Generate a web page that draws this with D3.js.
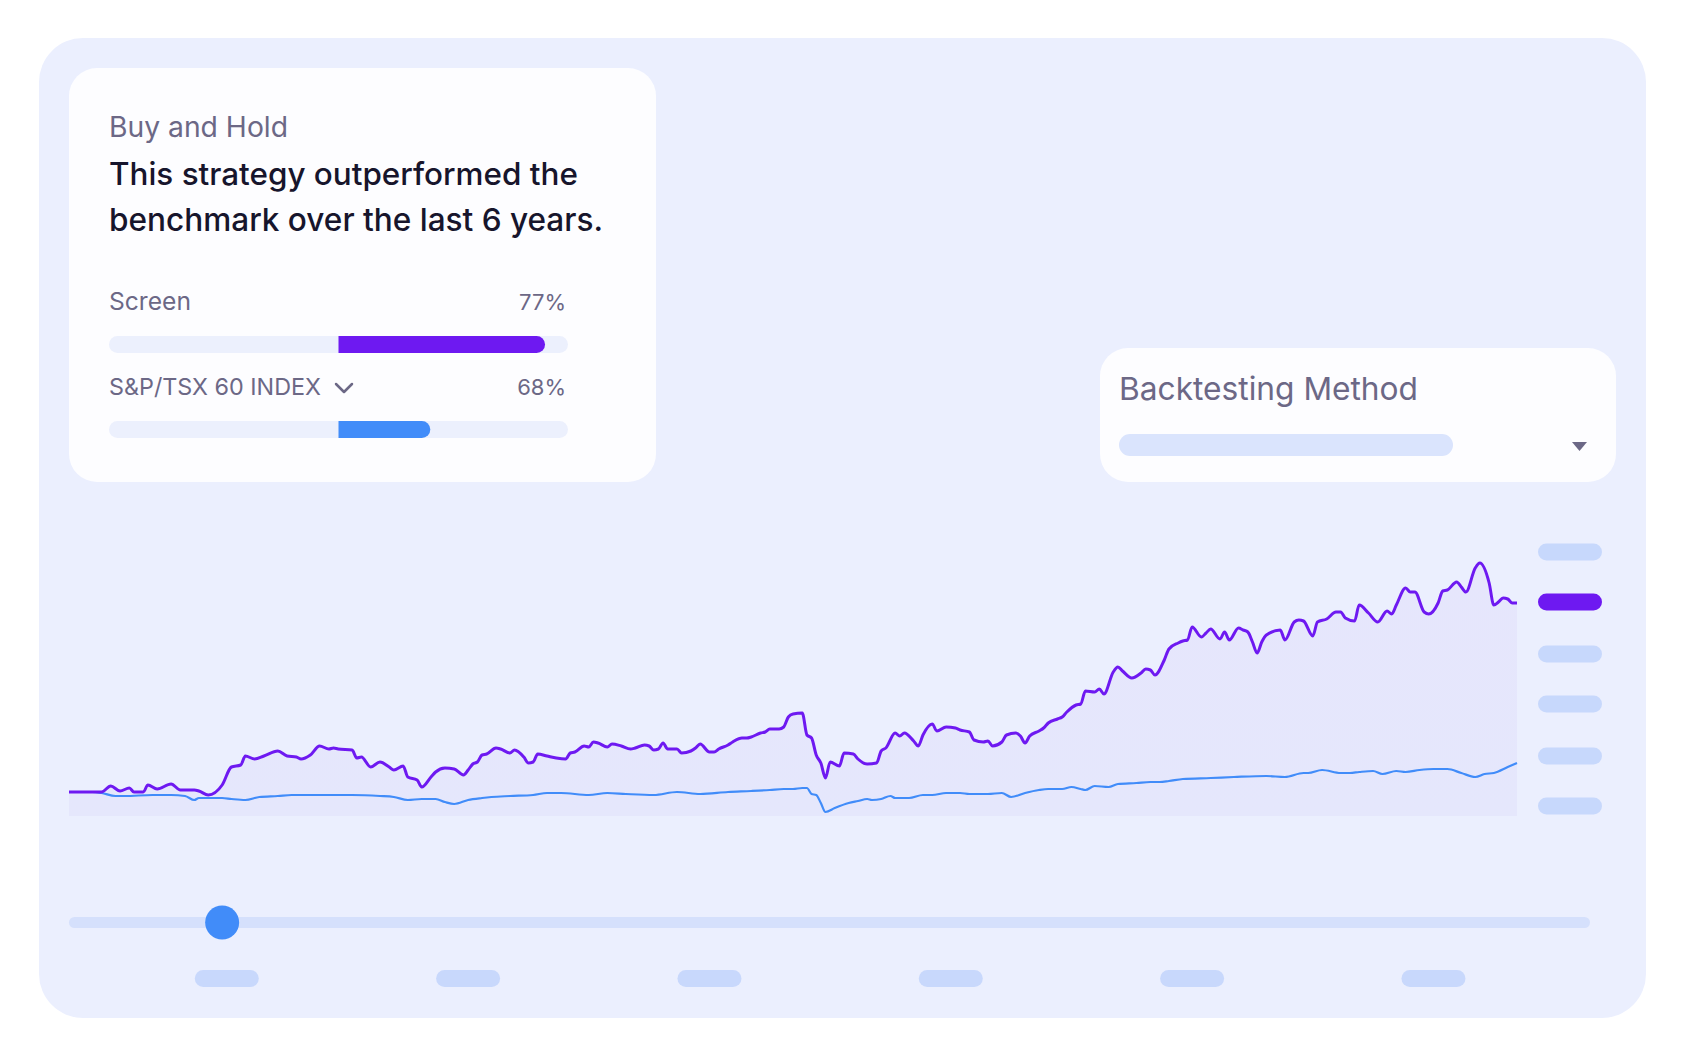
<!DOCTYPE html>
<html>
<head>
<meta charset="utf-8">
<script src="https://cdn.jsdelivr.net/npm/d3@7"></script>
<style>
  html, body { margin: 0; padding: 0; background: #ffffff; }
  svg { display: block; }
  text { font-family: Inter, "Noto Sans", sans-serif; }
</style>
</head>
<body>
<div id="chart"></div>
<script>
// weekly points, value = return in % since start
var screenWeeks = [0,5,7,9,11,13,14,16,17,19,22,24,27,28,30,33,35,37,38,40,42,45,47,49,50,52,54,56,57,58,61,62,63,65,67,69,70,72,73,75,76,78,79,81,83,85,86,87,88,89,90,92,93,95,96,98,99,100,101,103,105,107,108,109,111,112,113,114,116,117,119,121,122,124,125,126,127,128,129,131,132,134,135,136,138,139,140,142,143,145,146,147,149,150,151,153,154,155,156,158,159,160,161,162,163,164,166,167,169,170,172,174,175,176,178,179,180,182,183,184,186,187,189,191,192,194,195,197,198,199,201,202,204,205,206,207,209,210,211,213,214,215,217,218,219,221,222,223,225,226,227,229,231,232,233,234,236,237,239,240,241,242,244,245,246,248,249,250,252,253,254,255,256,257,258,261,262,264,265,266,268,269,271,273,274,275,277,278,280,282,284,285,286,288,289,290,292,293,295,296,297,299,300,301,303,304,306,307,308,309,310,311,312]
var screenValues = [0,0,0,6,1,4,0,0,7,3,8,2,2,1,-3,7,25,27,36,33,36,41,36,35,33,37,46,43,44,43,42,34,35,25,30,25,22,26,15,12,5,15,20,24,23,17,22,28,30,37,38,44,43,39,42,35,29,30,38,36,34,33,39,40,46,45,50,49,45,48,46,43,44,47,46,42,43,49,43,43,39,41,44,48,40,40,43,47,50,54,54,55,59,60,63,63,65,75,78,79,57,54,37,29,14,30,26,39,38,33,28,29,41,44,59,56,59,51,46,57,68,61,65,64,62,60,52,50,51,46,50,57,59,56,49,56,61,64,69,73,75,80,87,88,101,100,103,98,120,125,121,114,119,123,122,117,132,143,149,151,152,165,155,159,163,153,160,152,164,162,160,150,139,150,157,162,152,170,172,171,156,170,173,180,180,174,171,187,179,170,181,178,187,204,200,200,180,178,189,201,202,210,205,200,224,229,209,187,190,194,193,189,189]

var indexWeeks = [0,5,7,10,12,18,22,25,27,28,31,33,35,38,41,45,48,56,61,67,70,73,76,79,81,83,86,89,91,95,100,103,106,112,116,120,126,131,136,142,147,151,154,156,158,159,160,161,162,163,165,168,170,172,173,175,177,178,181,184,186,189,192,194,198,201,203,206,209,211,214,216,218,219,221,224,226,230,233,235,237,240,246,251,258,262,266,267,270,274,276,278,281,283,286,288,291,294,297,300,303,305,307,310,312]
var indexValues = [0,0,-1,-4,-4,-3,-3,-4,-8,-6,-6,-6,-7,-8,-5,-4,-3,-3,-3,-4,-5,-8,-7,-7,-10,-12,-8,-6,-5,-4,-3,-1,-1,-3,-1,-2,-3,0,-2,0,1,2,3,3,4,4,-2,-3,-11,-20,-16,-11,-9,-7,-8,-7,-4,-6,-6,-3,-3,-1,-1,-2,-2,-1,-5,-1,2,3,3,5,3,2,6,5,8,9,10,10,11,13,14,15,16,15,19,19,22,19,19,20,21,18,21,20,22,23,23,19,15,18,19,25,29]

var yearTicks = [34, 86, 138, 190, 242, 294]
var yTicks = [240, 190, 138, 88, 36, -14]

var seriesNames = ["Screen", "S&P/TSX 60 INDEX"]
var seriesPct = ["77%", "68%"]
var barScores = [0.9, 0.4]

var headTitle = "Buy and Hold"
var headLines = ["This strategy outperformed the", "benchmark over the last 6 years."]
var methodTitle = "Backtesting Method"
var sliderWeek = 33

var W = 1686, H = 1056
var purple = "#6e19f1", blue = "#418cf9", grey = "#6c6886"

var svg = d3.select("#chart").append("svg")
  .attr("width", W)
  .attr("height", H)

var defs = svg.append("defs")
var grad = defs.append("linearGradient").attr("id", "fillGrad")
  .attr("x1", 0).attr("y1", 0).attr("x2", 0).attr("y2", 1)
grad.append("stop").attr("offset", "0%").attr("stop-color", "#e6e6fc")
grad.append("stop").attr("offset", "100%").attr("stop-color", "#e5e7fc")

// outer panel
svg.append("rect")
  .attr("x", 39).attr("y", 38).attr("width", 1607).attr("height", 980)
  .attr("rx", 44).attr("fill", "#ebeffe")

// fit a text to a target width
function fit(t, w) {
  var len = t.node().getComputedTextLength()
  var fs = parseFloat(t.attr("font-size"))
  t.attr("font-size", (fs * w / len).toFixed(2))
}

// left card
svg.append("rect")
  .attr("x", 69).attr("y", 68).attr("width", 587).attr("height", 414)
  .attr("rx", 28).attr("fill", "#fdfdff")

fit(svg.append("text").attr("x", 109).attr("y", 137).attr("font-size", 26)
  .attr("fill", grey).text(headTitle), 179)

headLines.forEach(function (s, i) {
  fit(svg.append("text").attr("x", 109).attr("y", 185 + i * 46).attr("font-size", 29)
    .attr("fill", "#17152c").attr("font-weight", 500).text(s), i == 0 ? 469 : 494)
})

var barX = d3.scaleLinear().domain([-1, 1]).range([109, 568])
var labelW = [82, 212]
seriesNames.forEach(function (name, i) {
  var base = 310 + i * 85
  fit(svg.append("text").attr("x", 109).attr("y", base).attr("font-size", 22)
    .attr("fill", grey).text(name), labelW[i])
  svg.append("text").attr("x", 566).attr("y", base).attr("font-size", 22)
    .attr("text-anchor", "end").attr("fill", grey).text(seriesPct[i])
  var by = base + 26
  svg.append("rect").attr("x", barX(-1)).attr("y", by).attr("width", barX(1) - barX(-1))
    .attr("height", 17).attr("rx", 8.5).attr("fill", "#ecf0fd")
  var x0 = barX(0), x1 = barX(barScores[i])
  svg.append("path")
    .attr("d", "M" + x0 + "," + by + "H" + (x1 - 8.5) + "A8.5,8.5 0 0 1 " + (x1 - 8.5) + "," + (by + 17) + "H" + x0 + "Z")
    .attr("fill", i == 0 ? purple : blue)
})
// chevron next to the index name
svg.append("path")
  .attr("d", "M336,384 L344,392 L352,384")
  .attr("fill", "none").attr("stroke", grey).attr("stroke-width", 2.5)
  .attr("stroke-linecap", "round").attr("stroke-linejoin", "round")

// right card
svg.append("rect")
  .attr("x", 1100).attr("y", 348).attr("width", 516).attr("height", 134)
  .attr("rx", 28).attr("fill", "#fdfdff")
fit(svg.append("text").attr("x", 1119).attr("y", 400).attr("font-size", 30)
  .attr("fill", grey).text(methodTitle), 299)
svg.append("rect").attr("x", 1119).attr("y", 434).attr("width", 334).attr("height", 22)
  .attr("rx", 11).attr("fill", "#dae4fd")
svg.append("path").attr("d", "M1572,442 L1587,442 L1579.5,451 Z").attr("fill", grey)

// chart
var x = d3.scaleLinear().domain([0, 312]).range([69, 1517])
var y = d3.scaleLinear().domain([-24, 240]).range([816, 552])

var screen = screenWeeks.map(function (w, i) { return {w: w, v: screenValues[i]} })
var index = indexWeeks.map(function (w, i) { return {w: w, v: indexValues[i]} })

var area = d3.area()
  .x(function (d) { return x(d.w) })
  .y0(y(-24))
  .y1(function (d) { return y(d.v) })
  .curve(d3.curveMonotoneX)
var line = d3.line()
  .x(function (d) { return x(d.w) })
  .y(function (d) { return y(d.v) })
  .curve(d3.curveMonotoneX)

svg.append("path").datum(screen).attr("d", area).attr("fill", "url(#fillGrad)")
svg.append("path").datum(index).attr("d", line)
  .attr("fill", "none").attr("stroke", blue).attr("stroke-width", 2.2)
svg.append("path").datum(screen).attr("d", line)
  .attr("fill", "none").attr("stroke", purple).attr("stroke-width", 3)
  .attr("stroke-linejoin", "round")

// y axis placeholder pills, the one at the last screen value is highlighted
var last = screenValues[screenValues.length - 1]
var near = d3.least(yTicks, function (t) { return Math.abs(t - last) })
svg.append("g").selectAll("rect").data(yTicks).enter().append("rect")
  .attr("x", 1538).attr("y", function (d) { return y(d) - 8.5 })
  .attr("width", 64).attr("height", 17).attr("rx", 8.5)
  .attr("fill", function (d) { return d == near ? purple : "#c7d8fc" })

// slider
svg.append("rect").attr("x", 69).attr("y", 917).attr("width", 1521).attr("height", 11)
  .attr("rx", 5.5).attr("fill", "#d5e0fc")
svg.append("circle").attr("cx", x(sliderWeek)).attr("cy", 922.5).attr("r", 17).attr("fill", blue)

// x axis placeholder pills (one per year)
svg.append("g").selectAll("rect").data(yearTicks).enter().append("rect")
  .attr("x", function (d) { return x(d) - 32 })
  .attr("y", 970).attr("width", 64).attr("height", 17).attr("rx", 8.5)
  .attr("fill", "#c8d8fc")
</script>
</body>
</html>
